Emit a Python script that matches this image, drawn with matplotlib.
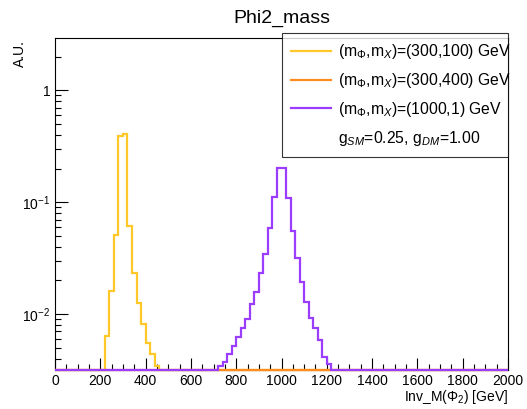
import numpy as np
import matplotlib
matplotlib.use("Agg")
import matplotlib.pyplot as plt
from matplotlib.lines import Line2D
from matplotlib.ticker import FixedLocator, NullFormatter

plt.rcParams['font.family'] = ['Liberation Sans', 'DejaVu Sans']
plt.rcParams['mathtext.fontset'] = 'custom'
plt.rcParams['mathtext.rm'] = 'Liberation Sans'
plt.rcParams['mathtext.it'] = 'Liberation Sans:italic'
plt.rcParams['mathtext.bf'] = 'Liberation Sans:bold'

# 20 GeV bins, 0-2000 GeV
bin_edges = np.arange(0, 2001, 20)

# (300,100): bins starting at 220 GeV
yellow_start = 220
yellow_vals = [0.00635, 0.0161, 0.0512, 0.391, 0.41, 0.0618, 0.0235,
               0.0126, 0.0081, 0.00553, 0.0044, 0.0034]

# (1000,1): bins starting at 720 GeV
purple_start = 720
purple_vals = [0.0034, 0.00374, 0.00438, 0.00518, 0.00627, 0.00745, 0.00902,
               0.0123, 0.0158, 0.0231, 0.0344, 0.0585, 0.112, 0.201, 0.201,
               0.110, 0.0553, 0.0316, 0.0195, 0.0129, 0.00915, 0.00745,
               0.00585, 0.00409, 0.00356]

# (300,400): empty histogram
orange_vals = []

labels = [r'(m$_{\Phi}$,m$_{X}$)=(300,100) GeV',
          r'(m$_{\Phi}$,m$_{X}$)=(300,400) GeV',
          r'(m$_{\Phi}$,m$_{X}$)=(1000,1) GeV']
colors = ['#ffc82a', '#ff8c1e', '#9b3dff']
coupling_text = r'g$_{SM}$=0.25, g$_{DM}$=1.00'

YMIN, YMAX = 0.00316, 2.94


def fill_hist(start, vals):
    h = np.zeros(len(bin_edges) - 1)
    i0 = int(start // 20)
    h[i0:i0 + len(vals)] = vals
    return h


hists = [fill_hist(yellow_start, yellow_vals),
         fill_hist(0, orange_vals),
         fill_hist(purple_start, purple_vals)]

fig = plt.figure(figsize=(5.27, 4.09), dpi=100)
ax = fig.add_axes([55 / 527, 1 - 370 / 409, 453 / 527, 332 / 409])

for h, c in zip(hists, colors):
    y = np.clip(h, YMIN, None)
    ax.stairs(y, bin_edges, color=c, linewidth=1.6, baseline=None,
              clip_on=False, zorder=3)

ax.set_yscale('log')
ax.set_xlim(0, 2000)
ax.set_ylim(YMIN, YMAX)

ax.xaxis.set_major_locator(FixedLocator(np.arange(0, 2001, 200)))
ax.xaxis.set_minor_locator(FixedLocator(np.arange(0, 2001, 50)))
ax.yaxis.set_major_locator(FixedLocator([0.01, 0.1, 1]))
minors = [m * 10.0 ** e for e in (-3, -2, -1, 0) for m in range(2, 10)]
ax.yaxis.set_minor_locator(FixedLocator(minors))
ax.yaxis.set_minor_formatter(NullFormatter())
ax.set_yticklabels([r'$10^{-2}$', r'$10^{-1}$', '1'])

ax.tick_params(which='both', direction='in', top=False, right=False,
               labelsize=10, width=0.8)
ax.tick_params(which='major', length=9)
ax.tick_params(which='minor', length=4.5)
ax.tick_params(axis='x', pad=3)
for sp in ax.spines.values():
    sp.set_linewidth(0.8)

ax.set_title('Phi2_mass', fontsize=14, pad=11)
fig.text(20 / 527, 1 - 40 / 409, 'A.U.', rotation=90, ha='center', va='top',
         fontsize=10)
fig.text(508 / 527, 1 - 397 / 409, r'Inv_M($\Phi_2$) [GeV]', ha='right',
         va='center', fontsize=10)

handles = [Line2D([], [], color=c, linewidth=1.6) for c in colors]
handles.append(Line2D([], [], color='none'))
leg = ax.legend(handles, labels + [coupling_text],
                loc='upper left', mode='expand',
                bbox_to_anchor=(282 / 527, 1 - 37 / 409, 226 / 527, 0.01),
                bbox_transform=fig.transFigure,
                fontsize=11.3, frameon=True, fancybox=False, shadow=False,
                handlelength=2.55, handletextpad=0.45, labelspacing=0.62,
                borderpad=0.6, borderaxespad=0)
leg.get_frame().set_edgecolor('black')
leg.get_frame().set_linewidth(0.8)

fig.savefig('out.png', dpi=100)
